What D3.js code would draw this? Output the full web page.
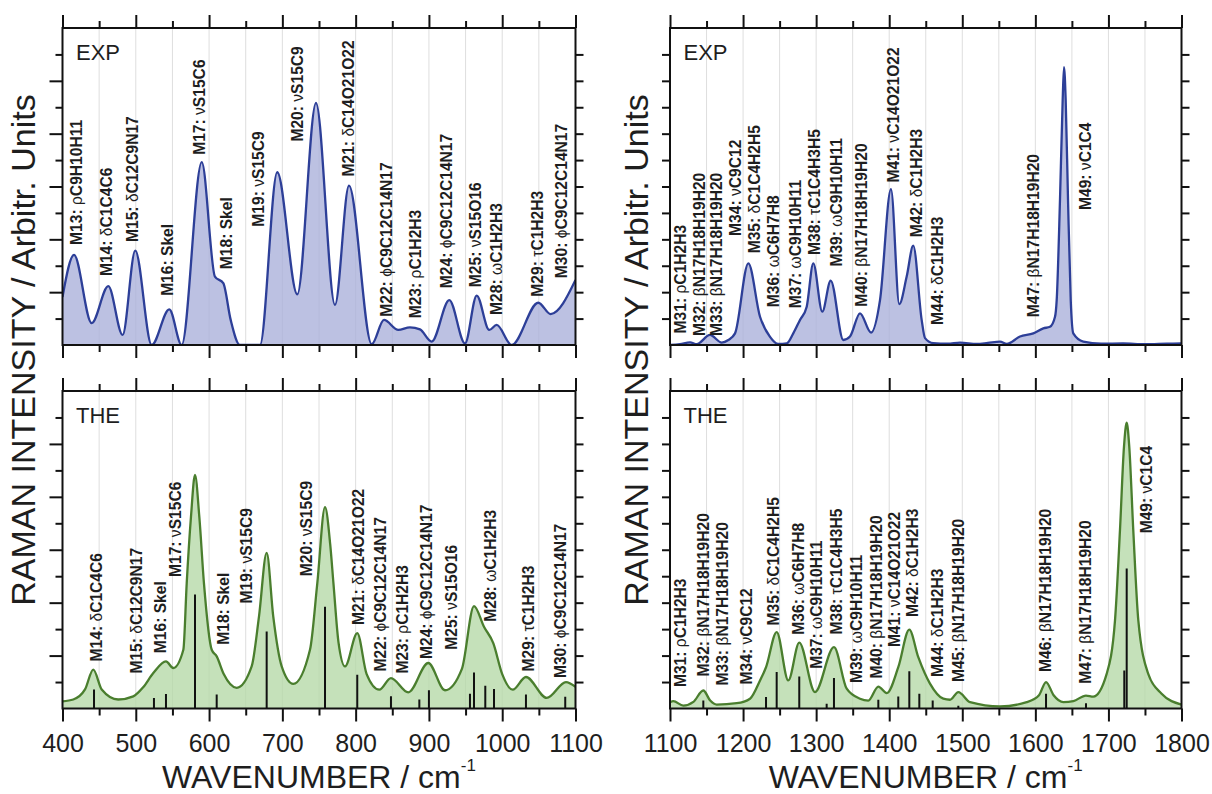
<!DOCTYPE html>
<html>
<head>
<meta charset="utf-8">
<script src="https://cdn.jsdelivr.net/npm/d3@7"></script>
<style>
  body { margin: 0; background: #fff; }
  svg { display: block; }
  text { font-family: Arial, "Liberation Sans", Helvetica, sans-serif; fill: #1e1e1e; }
</style>
</head>
<body>
<svg id="chart" width="1212" height="794"></svg>
<script>
// ---- Spectra: [wavenumber (cm-1), intensity (arb. units)] ----
const expLow = [[400,1.82],[415.7,3.41],[439.8,0.83],[462.5,2.23],[482,0.38],[499.3,3.57],[521.7,0],[545.7,1.35],[562.6,0],[590,6.92],[608,2.59],[619.4,2.34],[629.5,0.95],[642,0],[669.5,0],[693,6.54],[720.4,1.92],[745.9,9.16],[771.8,1.52],[790.9,6.03],[821.9,0.03],[838.7,0.95],[858.2,0.57],[874.1,0.67],[887.8,0.59],[903.7,0.13],[927.8,1.70],[949.2,0.06],[965.2,1.87],[982.3,0.57],[992.4,0.76],[1012.9,0],[1049.2,1.60],[1066.1,1.17],[1100,2.46]];

const theLow = [[400,0.27],[414.7,0.34],[430.7,0.72],[442,1.47],[453.5,0.72],[476,0.34],[496.6,0.46],[510,0.8],[523.9,1.34],[541.2,1.78],[551.2,1.53],[564.9,2.22],[569.5,4.74],[575.3,7.24],[580.8,8.83],[586.7,7.24],[593,4.74],[603.6,2.22],[610.4,1.97],[620,1.3],[637.7,0.78],[658.1,1.59],[668.1,3.47],[678.6,5.88],[687.6,3.47],[699.1,1.59],[714.9,0.93],[737.7,2.22],[747.7,4.74],[758.2,7.61],[765.3,6.2],[769.8,4.7],[776.6,2.5],[785.5,1.59],[802.2,2.85],[815,1.3],[832.3,0.71],[848.2,1.15],[871.8,0.61],[899.1,1.72],[921.9,0.69],[945,1.5],[961.5,3.87],[975.1,3.09],[987.8,2.47],[1000,1.3],[1014.3,0.71],[1032.4,1.19],[1060.7,0.40],[1087,1.00],[1100,0.82]];

const expHigh = [[1100,0],[1113.7,0.03],[1127.4,0.1],[1136.5,0.03],[1154.7,0.38],[1170.8,0.09],[1179.8,0.19],[1189,0.44],[1207.2,3.09],[1223.2,1.07],[1236.9,0.31],[1248.2,0.04],[1259.7,0.06],[1268.7,0.44],[1277.9,0.95],[1287.1,1.45],[1296.1,3.09],[1308.4,1.26],[1319.9,2.44],[1337.2,0.19],[1346.3,0.32],[1360,1.20],[1375.1,0.47],[1387.4,1.70],[1402.4,5.90],[1413.8,1.55],[1423.9,2.59],[1432.9,3.76],[1444.4,0.95],[1449,0.26],[1460.3,0.07],[1480,0.05],[1497,0.09],[1520,0.04],[1535,0.08],[1551.6,0.13],[1560.8,0.04],[1579,0.32],[1597.2,0.44],[1610.9,0.63],[1620,0.69],[1626.9,1.07],[1629.2,1.70],[1633.7,5.49],[1637.4,9.28],[1639.2,10.52],[1641.5,9.28],[1644.7,5.49],[1648.4,1.70],[1651.9,0.44],[1665.6,0.13],[1690,0.05],[1720,0.06],[1750,0.03],[1780,0.05],[1800,0.06]];

const theHigh = [[1100,0.24],[1104.5,0.28],[1118.2,0.11],[1132,0.25],[1145.6,0.68],[1155,0.3],[1163.9,0.15],[1191.3,0.20],[1209.5,0.37],[1223.2,1.06],[1231.4,1.56],[1246,2.89],[1261.9,1.06],[1276.9,2.49],[1298.4,0.62],[1324.4,2.32],[1341.8,0.75],[1360,0.37],[1371.4,0.30],[1385.1,0.83],[1396.6,0.58],[1412.4,1.56],[1427.5,2.98],[1439.8,1.94],[1455.8,0.94],[1474,0.37],[1483.2,0.33],[1494.6,0.62],[1510.6,0.24],[1551.6,0.08],[1588.2,0.24],[1605,0.5],[1614.6,1.0],[1625,0.5],[1638.3,0.24],[1652,0.28],[1669.3,0.49],[1679.3,0.45],[1697.6,1.31],[1709,3.33],[1715.8,6.74],[1721.3,9.9],[1725,10.8],[1728.5,9.9],[1734,6.74],[1740.9,3.33],[1754.5,1.31],[1772.8,0.56],[1800,0.15]];

// ---- Calculated Raman activities (stick spectra) ----
const sticksLow = [[443,0.72],[524.8,0.40],[541.2,0.55],[580.8,4.31],[610.4,0.53],[678.6,2.91],[758.2,3.85],[802.2,1.28],[848.2,0.46],[886.9,0.34],[900,0.69],[956,0.56],[961.5,1.36],[976.9,0.86],[988.8,0.74],[1032.4,0.53],[1086,0.44]];
const sticksHigh = [[1145.6,0.3],[1231.4,0.43],[1246,1.38],[1276.9,1.21],[1314.4,0.18],[1324.4,1.15],[1385.1,0.33],[1412.4,0.45],[1427.5,1.41],[1441.2,0.56],[1459.5,0.30],[1494.6,0.1],[1614.6,0.56],[1669.3,0.2],[1721.7,1.44],[1725,5.29]];

// ---- Mode assignments: [mode, symbol, coordinate, wavenumber, label base] ----
const labelsExpLow = [["M13","ρ","C9H10H11",418.4,3.79],["M14","δ","C1C4C6",460.3,2.61],["M15","δ","C12C9N17",495.8,3.90],["M16","","Skel",543,1.86],["M17","ν","S15C6",586.7,7.20],["M18","","Skel",624,2.87],["M19","ν","S15C9",667.2,4.48],["M20","ν","S15C9",720.4,7.70],["M21","δ","C14O21O22",790,6.38],["M22","ϕ","C9C12C14N17",842.4,1.07],["M23","ρ","C1H2H3",881,1.01],["M24","ϕ","C9C12C14N17",924.2,2.15],["M25","ν","S15O16",963.8,2.19],["M28","ω","C1H2H3",992.4,1.14],["M29","τ","C1H2H3",1047.8,1.83],["M30","ϕ","C9C12C14N17",1081.1,2.53]];
const labelsTheLow = [["M14","δ","C1C4C6",446.7,1.78],["M15","δ","C12C9N17",501.2,1.32],["M16","","Skel",533,2.09],["M17","ν","S15C6",553.5,4.97],["M18","","Skel",619.4,2.41],["M19","ν","S15C9",651.3,3.97],["M20","ν","S15C9",733.2,5.0],["M21","δ","C14O21O22",803.6,3.16],["M22","ϕ","C9C12C14N17",834.2,1.40],["M23","ρ","C1H2H3",864.2,1.32],["M24","ϕ","C9C12C14N17",896.9,1.87],["M25","ν","S15O16",931,2.22],["M28","ω","C1H2H3",983.3,3.28],["M29","τ","C1H2H3",1035.6,1.40],["M30","ϕ","C9C12C14N17",1078.8,1.15]];
const labelsExpHigh = [["M31","ρ","C1H2H3",1114.6,0.44],["M32","β","N17H18H19H20",1140.1,0.34],["M33","β","N17H18H19H20",1163,0.34],["M34","ν","C9C12",1189,4.13],["M35","δ","C1C4H2H5",1215,3.47],["M36","ω","C6H7H8",1241.4,1.43],["M37","ω","C9H10H11",1271.1,1.39],["M38","τ","C1C4H3H5",1297.1,3.41],["M39","ω","C9H10H11",1327.2,2.97],["M40","β","N17H18H19H20",1361.4,1.45],["M41","ν","C14O21O22",1405.6,6.15],["M42","δ","C1H2H3",1437.6,4.08],["M44","δ","C1H2H3",1465.8,0.76],["M47","β","N17H18H19H20",1597.2,1.05],["M49","ν","C1C4",1668,5.11]];
const labelsTheHigh = [["M31","ρ","C1H2H3",1114.6,0.81],["M32","β","N17H18H19H20",1145.6,1.21],["M33","β","N17H18H19H20",1172.1,0.87],["M34","ν","C9C12",1204,0.91],["M35","δ","C1C4H2H5",1241.4,3.14],["M36","ω","C6H7H8",1275.6,2.79],["M37","ω","C9H10H11",1300.8,1.50],["M38","τ","C1C4H3H5",1328.1,2.80],["M39","ω","C9H10H11",1355.5,0.96],["M40","β","N17H18H19H20",1381.9,1.13],["M41","ν","C14O21O22",1406.6,2.32],["M42","δ","C1H2H3",1432.2,3.46],["M44","δ","C1H2H3",1465.8,1.19],["M45","β","N17H18H19H20",1494.6,1.0],["M46","β","N17H18H19H20",1613.2,1.38],["M47","β","N17H18H19H20",1668,0.94],["M49","ν","C1C4",1752.4,6.62]];

// ---- Axis settings ----
const rangesX = [[400, 1100], [1100, 1800]];
const rangeY = [0, 12];
const panelTags = ["EXP", "THE"];
const xTitle = "WAVENUMBER / cm";
const yTitle = "RAMAN INTENSITY / Arbitr. Units";

// ---- Layout ----
const cols = [{ x0: 62.5, x1: 575.5 }, { x0: 670, x1: 1181.5 }];
const rows = [{ y0: 28, y1: 345 }, { y0: 391, y1: 708.5 }];
const style = {
  exp: { line: "#2d3f98", fill: "#a9afda" },
  the: { line: "#4a7e2e", fill: "#b5d9a6" }
};

const svg = d3.select("#chart");

const panels = [
  { c: 0, r: 0, data: expLow, labels: labelsExpLow, kind: "exp" },
  { c: 0, r: 1, data: theLow, labels: labelsTheLow, sticks: sticksLow, kind: "the" },
  { c: 1, r: 0, data: expHigh, labels: labelsExpHigh, kind: "exp" },
  { c: 1, r: 1, data: theHigh, labels: labelsTheHigh, sticks: sticksHigh, kind: "the" }
];

panels.forEach((p, i) => {
  const col = cols[p.c], row = rows[p.r];
  const dom = rangesX[p.c];
  const x = d3.scaleLinear().domain(dom).range([col.x0, col.x1]);
  const y = d3.scaleLinear().domain(rangeY).range([row.y1, row.y0]);
  const g = svg.append("g");
  const clipId = "clip" + i;
  svg.append("clipPath").attr("id", clipId).append("rect")
    .attr("x", col.x0).attr("y", row.y0)
    .attr("width", col.x1 - col.x0).attr("height", row.y1 - row.y0);

  // vertical grid every 50 cm-1
  g.append("g").selectAll("line")
    .data(d3.range(dom[0] + 50, dom[1], 50))
    .join("line")
    .attr("x1", d => x(d)).attr("x2", d => x(d))
    .attr("y1", row.y0).attr("y2", row.y1)
    .attr("stroke", "#dedede").attr("stroke-width", 1);

  const plot = g.append("g").attr("clip-path", `url(#${clipId})`);
  const area = d3.area().x(d => x(d[0])).y0(y(0)).y1(d => y(d[1])).curve(d3.curveMonotoneX);
  const line = d3.line().x(d => x(d[0])).y(d => y(d[1])).curve(d3.curveMonotoneX);
  const st = style[p.kind];

  plot.append("path").datum(p.data).attr("d", area)
    .attr("fill", st.fill).attr("fill-opacity", 0.78);

  if (p.sticks) {
    plot.append("g").selectAll("line").data(p.sticks).join("line")
      .attr("x1", d => x(d[0])).attr("x2", d => x(d[0]))
      .attr("y1", y(0)).attr("y2", d => y(d[1]))
      .attr("stroke", "#111").attr("stroke-width", 2);
  }

  plot.append("path").datum(p.data).attr("d", line)
    .attr("fill", "none").attr("stroke", st.line).attr("stroke-width", 2.3)
    .attr("stroke-linejoin", "round");

  // mode labels, rotated
  const lab = g.append("g").selectAll("text").data(p.labels).join("text")
    .attr("transform", d => `translate(${x(d[3])},${y(d[4])}) rotate(-90)`)
    .attr("dy", "0.36em")
    .attr("font-size", 15.6)
    .attr("font-weight", "bold");
  lab.append("tspan").text(d => d[0] + ": ");
  lab.append("tspan").attr("font-weight", "normal").text(d => d[1]);
  lab.append("tspan").text(d => d[2]);

  // panel tag
  g.append("text").attr("x", col.x0 + 13.5).attr("y", row.y0 + 31.5)
    .attr("font-size", 22).text(panelTags[p.r]);

  // frame
  g.append("rect").attr("x", col.x0).attr("y", row.y0)
    .attr("width", col.x1 - col.x0).attr("height", row.y1 - row.y0)
    .attr("fill", "none").attr("stroke", "#111").attr("stroke-width", 2);

  const major = d3.range(dom[0], dom[1] + 1, 100);
  const minor = d3.range(dom[0] + 50, dom[1], 100);

  const tidy = sel => {
    sel.select(".domain").remove();
    sel.selectAll("line").attr("stroke", "#111").attr("stroke-width", 2);
  };

  // top ticks (outward)
  g.append("g").attr("transform", `translate(0,${row.y0})`)
    .call(d3.axisTop(x).tickValues(major).tickSize(13).tickFormat("")).call(tidy);
  g.append("g").attr("transform", `translate(0,${row.y0})`)
    .call(d3.axisTop(x).tickValues(minor).tickSize(7).tickFormat("")).call(tidy);

  // bottom ticks (outward)
  const bottomMajor = g.append("g").attr("transform", `translate(0,${row.y1})`)
    .call(d3.axisBottom(x).tickValues(major).tickSize(13)
      .tickFormat(p.r === 1 ? d3.format("d") : ""))
    .call(tidy);
  g.append("g").attr("transform", `translate(0,${row.y1})`)
    .call(d3.axisBottom(x).tickValues(minor).tickSize(7).tickFormat("")).call(tidy);
  if (p.r === 1) {
    bottomMajor.selectAll("text")
      .attr("y", 43).attr("dy", 0)
      .attr("font-size", 25).attr("fill", "#1e1e1e")
      .style("font-family", "Arial, 'Liberation Sans', Helvetica, sans-serif");
  }

  // y ticks
  const yMajor = d3.range(2, 12, 2), yMinor = d3.range(1, 12, 2);
  if (p.c === 0) {
    g.append("g").attr("transform", `translate(${col.x0},0)`)
      .call(d3.axisLeft(y).tickValues(yMajor).tickSize(13).tickFormat("")).call(tidy);
    g.append("g").attr("transform", `translate(${col.x0},0)`)
      .call(d3.axisLeft(y).tickValues(yMinor).tickSize(7).tickFormat("")).call(tidy);
  } else {
    g.append("g").attr("transform", `translate(${col.x0},0)`)
      .call(d3.axisLeft(y).tickValues(d3.range(1, 12)).tickSize(8).tickFormat("")).call(tidy);
  }
  g.append("g").attr("transform", `translate(${col.x1},0)`)
    .call(d3.axisRight(y).tickValues(d3.range(1, 12)).tickSize(8).tickFormat("")).call(tidy);
});

// axis titles
cols.forEach((col, c) => {
  const cx = (col.x0 + col.x1) / 2;
  const t = svg.append("text").attr("x", cx).attr("y", 788)
    .attr("text-anchor", "middle").attr("font-size", 32);
  t.append("tspan").text(xTitle);
  t.append("tspan").attr("font-size", 17).attr("dy", -17).text("-1");

  const yx = c === 0 ? 23 : 636;
  svg.append("text")
    .attr("transform", `translate(${yx},350) rotate(-90)`)
    .attr("text-anchor", "middle").attr("dy", "0.36em")
    .attr("font-size", 34).text(yTitle);
});
</script>
</body>
</html>
